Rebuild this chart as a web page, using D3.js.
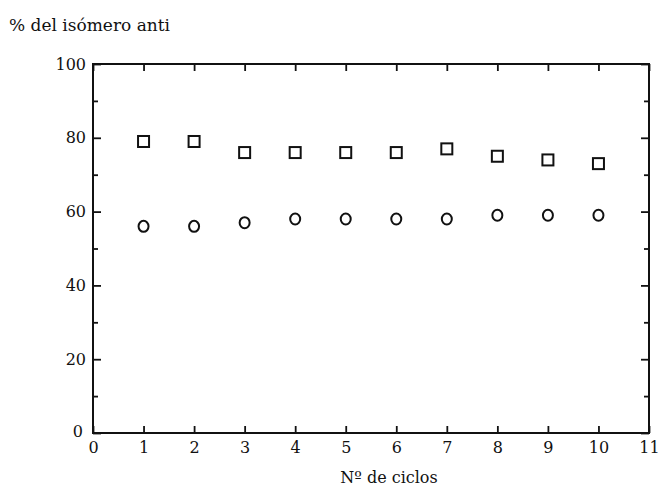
<!DOCTYPE html>
<html>
<head>
<meta charset="utf-8">
<script src="https://cdn.jsdelivr.net/npm/d3@7"></script>
<style>
  html, body { margin: 0; padding: 0; background: #fff; }
  svg { display: block; }
  text { font-family: "DejaVu Serif", serif; fill: #111; }
</style>
</head>
<body>
<script>
// Cycle numbers and the percentage of anti isomer for the two series
const ciclos = [1, 2, 3, 4, 5, 6, 7, 8, 9, 10];
const serieCuadrados = [79, 79, 76, 76, 76, 76, 77, 75, 74, 73];
const serieCirculos = [56, 56, 57, 58, 58, 58, 58, 59, 59, 59];
const xTicks = [0, 1, 2, 3, 4, 5, 6, 7, 8, 9, 10, 11];
const yMajorTicks = [0, 20, 40, 60, 80, 100];
const yMinorTicks = [10, 30, 50, 70, 90];
const yTitle = "% del isómero anti";
const xTitle = "Nº de ciclos";

const W = 660, H = 488;
const m = { left: 93, right: 11, top: 64, bottom: 55 };

const svg = d3.select("body").append("svg")
  .attr("width", W).attr("height", H);

const x = d3.scaleLinear().domain([0, 11]).range([m.left, W - m.right]);
const y = d3.scaleLinear().domain([0, 100]).range([H - m.bottom, m.top]);

const ink = "#111";
const fs = 16;

// Bottom axis: labels plus inward ticks
const gx = svg.append("g").attr("transform", `translate(0,${y(0)})`)
  .call(d3.axisBottom(x).tickValues(xTicks).tickSize(-7).tickPadding(9)
    .tickFormat(d3.format("d")));
// Top axis: inward ticks only
const gxt = svg.append("g").attr("transform", `translate(0,${y(100)})`)
  .call(d3.axisTop(x).tickValues(xTicks).tickSize(-7).tickFormat(""));

// Left axis: labelled major ticks and shorter minor ticks
const gy = svg.append("g").attr("transform", `translate(${x(0)},0)`)
  .call(d3.axisLeft(y).tickValues(yMajorTicks).tickSize(-8).tickPadding(7)
    .tickFormat(d3.format("d")));
const gym = svg.append("g").attr("transform", `translate(${x(0)},0)`)
  .call(d3.axisLeft(y).tickValues(yMinorTicks).tickSize(-5).tickFormat(""));

// Right axis: inward ticks only
const gyr = svg.append("g").attr("transform", `translate(${x(11)},0)`)
  .call(d3.axisRight(y).tickValues(yMajorTicks).tickSize(-8).tickFormat(""));
const gyrm = svg.append("g").attr("transform", `translate(${x(11)},0)`)
  .call(d3.axisRight(y).tickValues(yMinorTicks).tickSize(-5).tickFormat(""));

[gx, gxt, gy, gym, gyr, gyrm].forEach(g => {
  g.select(".domain").remove();
  g.selectAll(".tick line").attr("stroke", ink).attr("stroke-width", 1.8);
  g.selectAll(".tick text").attr("font-size", fs)
    .attr("font-family", "DejaVu Serif, serif").attr("fill", ink);
});

// Nudge the y-axis zero label the way it sits at the corner
gy.selectAll(".tick text").filter(d => d === 0).attr("dx", -3).attr("dy", "0.2em");

// Plot frame
svg.append("rect")
  .attr("x", x(0)).attr("y", y(100))
  .attr("width", x(11) - x(0)).attr("height", y(0) - y(100))
  .attr("fill", "none").attr("stroke", ink).attr("stroke-width", 2);

// Square markers
const sq = 11;
svg.append("g").selectAll("rect")
  .data(ciclos.map((c, i) => ({ c, v: serieCuadrados[i] })))
  .join("rect")
  .attr("x", d => x(d.c) - sq / 2).attr("y", d => y(d.v) - sq / 2)
  .attr("width", sq).attr("height", sq)
  .attr("fill", "#fff").attr("stroke", ink).attr("stroke-width", 2);

// Circle markers
svg.append("g").selectAll("ellipse")
  .data(ciclos.map((c, i) => ({ c, v: serieCirculos[i] })))
  .join("ellipse")
  .attr("cx", d => x(d.c)).attr("cy", d => y(d.v))
  .attr("rx", 5).attr("ry", 5.5)
  .attr("fill", "#fff").attr("stroke", ink).attr("stroke-width", 2);

// Axis titles
svg.append("text").attr("x", 9).attr("y", 31)
  .attr("font-size", 17).text(yTitle);
svg.append("text").attr("x", 389).attr("y", 483)
  .attr("text-anchor", "middle").attr("font-size", fs).text(xTitle);
</script>
</body>
</html>
